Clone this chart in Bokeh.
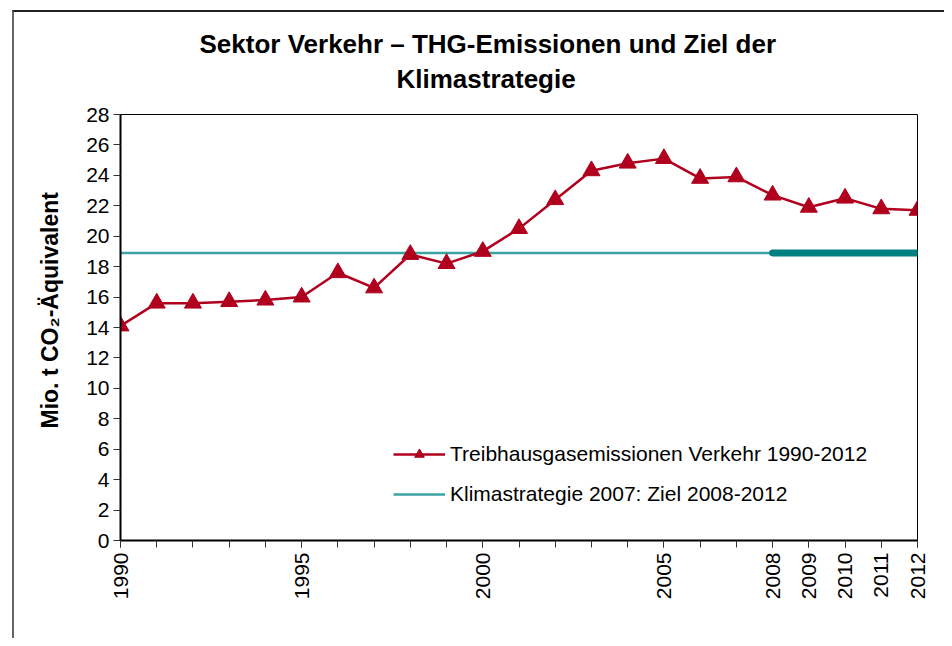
from bokeh.plotting import figure
from bokeh.models import (FixedTicker, Legend, LegendItem, Title, Range1d,
                          ColumnDataSource)
from bokeh.embed import file_html
from bokeh.resources import INLINE
import math

# ---- data ----
years = list(range(1990, 2013))
emissions = [14.1, 15.6, 15.6, 15.7, 15.8, 16.0, 17.6, 16.6, 18.8, 18.2, 19.0,
             20.5, 22.4, 24.3, 24.8, 25.1, 23.8, 23.9, 22.7, 21.9, 22.5, 21.8, 21.7]
target_value = 18.9
target_years_all = [1990, 2012]
target_years_goal = [2008, 2012]
labeled_years = [1990, 1995, 2000, 2005, 2008, 2009, 2010, 2011, 2012]
y_ticks = list(range(0, 30, 2))

title_lines = ["Sektor Verkehr – THG-Emissionen und Ziel der", "Klimastrategie"]
y_label = "Mio. t CO₂-Äquivalent"
legend_labels = ["Treibhausgasemissionen Verkehr 1990-2012",
                 "Klimastrategie 2007: Ziel 2008-2012"]

FONT = "Liberation Sans"
RED = "#B0001E"
TEAL = "#008080"
TEAL_THIN = "#3AA3A3"

p = figure(width=932, height=628, output_backend="svg", toolbar_location=None,
           x_range=Range1d(1990, 2012), y_range=Range1d(0, 28),
           min_border_left=106, min_border_right=29,
           min_border_top=102, min_border_bottom=100, title=None)
p.margin = (10, 0, 0, 12)
p.styles = {"border-left": "2px solid #666666", "border-top": "2px solid #222222"}

p.xgrid.visible = False
p.ygrid.visible = False
p.outline_line_color = "black"
p.outline_line_width = 1
p.background_fill_color = "white"
p.border_fill_color = "white"

# axes
p.xaxis.ticker = FixedTicker(ticks=labeled_years, minor_ticks=years)
p.yaxis.ticker = FixedTicker(ticks=y_ticks, minor_ticks=[])
for ax in (p.xaxis, p.yaxis):
    ax.axis_line_color = "black"
    ax.axis_line_width = 2
    ax.major_tick_line_color = "#333333"
    ax.major_tick_out = 7
    ax.major_tick_in = 0
    ax.minor_tick_line_color = "#333333"
    ax.minor_tick_out = 7
    ax.minor_tick_in = 0
    ax.major_label_text_font = FONT
    ax.major_label_text_font_size = "21px"
    ax.major_label_text_color = "black"
p.xaxis.major_label_orientation = math.pi / 2
p.xaxis.major_label_standoff = 5
p.yaxis.major_label_standoff = 4

# target line (thin across, thick for goal period)
src_all = ColumnDataSource(dict(x=target_years_all, y=[target_value] * len(target_years_all)))
src_goal = ColumnDataSource(dict(x=target_years_goal, y=[target_value] * len(target_years_goal)))
thin = p.line("x", "y", source=src_all, line_color=TEAL_THIN, line_width=2.5)
p.line("x", "y", source=src_goal, line_color=TEAL, line_width=7, line_cap="round")

# emissions
src_em = ColumnDataSource(dict(x=years, y=emissions))
em_line = p.line("x", "y", source=src_em, line_color=RED, line_width=2.5)
em_pts = p.scatter("x", "y", source=src_em, marker="triangle", size=17,
                   fill_color=RED, line_color=RED)

legend = Legend(items=[LegendItem(label=legend_labels[0], renderers=[em_line, em_pts]),
                       LegendItem(label=legend_labels[1], renderers=[thin])],
                location=(273, 34), padding=0, spacing=16, glyph_width=52,
                glyph_height=24, label_standoff=5, label_height=24,
                label_text_font=FONT, label_text_font_size="21px",
                label_text_color="black", border_line_color=None,
                background_fill_alpha=0)
p.add_layout(legend, "center")

# title lines (closest to frame added first)
p.add_layout(Title(text=title_lines[1], align="left", offset=276,
                   text_font=FONT, text_font_style="bold", text_font_size="26px",
                   text_color="black", standoff=42), "above")
p.add_layout(Title(text=title_lines[0], align="left", offset=79,
                   text_font=FONT, text_font_style="bold", text_font_size="26px",
                   text_color="black", standoff=-36), "above")

# y axis label as a left title
p.add_layout(Title(text=y_label, align="left", offset=112,
                   text_font=FONT, text_font_style="bold", text_font_size="23px",
                   text_color="black", standoff=41), "left")

open("out.html", "w").write(file_html(p, INLINE))
